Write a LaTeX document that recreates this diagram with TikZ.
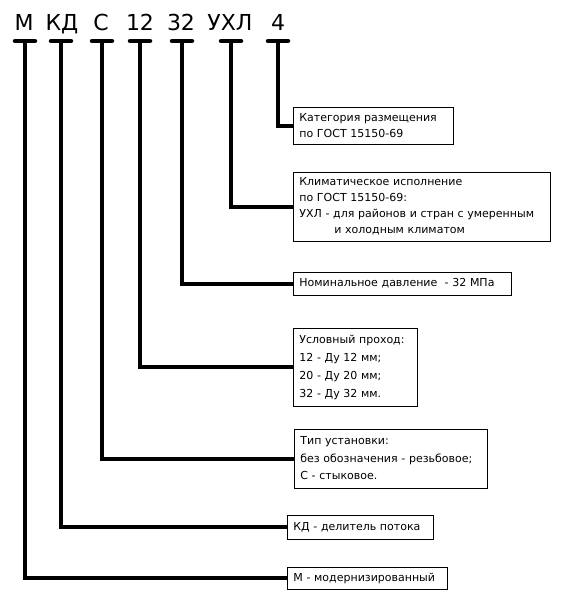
\documentclass[tikz,border=0pt]{standalone}
\usepackage{fontspec}
\setmainfont{DejaVu Sans}
\begin{document}
\begin{tikzpicture}[
		x=1pt, y=-1pt,
		marca/.style={
			anchor=base,
			inner sep=0pt,
			font=\fontsize{22}{26}\selectfont
		},
		caixa/.style={
			draw,
			rectangle,
			anchor=west,
			align=left,
			line width=0.8pt,
			inner xsep=6pt,
			inner ysep=2pt,
			font=\fontsize{11}{16}\selectfont
		},
		traco/.style={line width=4.5pt, line cap=round},
		ligacao/.style={line width=4pt}
		]
		\useasboundingbox (0,0) rectangle (561,599);
		
		% oboznachenie
		\node[marca] (M) at (24,31) {М};
		\node[marca] (KD) at (62,31) {КД};
		\node[marca] (C) at (101,31) {С};
		\node[marca] (d12) at (140,31) {12};
		\node[marca] (d32) at (181,31) {32};
		\node[marca] (UHL) at (230,31) {УХЛ};
		\node[marca] (d4) at (278,31) {4};
		
		\coordinate (tM) at (25,41);
		\coordinate (tKD) at (61,41);
		\coordinate (tC) at (102,41);
		\coordinate (t12) at (140,41);
		\coordinate (t32) at (182,41);
		\coordinate (tUHL) at (231,41);
		\coordinate (t4) at (278,41);
		
		\foreach \t in {tM,tKD,tC,t12,t32,tUHL,t4}
			\draw[traco] ([xshift=-10pt]\t) -- ([xshift=10pt]\t);
		
		% raskhifrovka
		\node[caixa, text width=148pt, minimum height=37pt] (kat) at (293,125.5)
			{Категория размещения\\по ГОСТ 15150-69};
		\node[caixa, text width=245pt, minimum height=69pt] (klim) at (293,206.5)
			{Климатическое исполнение\\по ГОСТ 15150-69:\\УХЛ - для районов и стран с умеренным\\\hspace*{35pt}и холодным климатом};
		\node[caixa, text width=206pt, minimum height=23pt] (nom) at (293,283.5)
			{Номинальное давление\ \ - 32 МПа};
		\node[caixa, text width=112pt, minimum height=78pt,
			font=\fontsize{11}{18}\selectfont] (du) at (293,367)
			{Условный проход:\\12 - Ду 12 мм;\\20 - Ду 20 мм;\\32 - Ду 32 мм.};
		\node[caixa, text width=181pt, minimum height=59pt,
			font=\fontsize{11}{17.5}\selectfont] (tip) at (294,458.5)
			{Тип установки:\\без обозначения - резьбовое;\\С - стыковое.};
		\node[caixa, text width=134pt, minimum height=24pt] (del) at (287,527)
			{КД - делитель потока};
		\node[caixa, text width=148pt, minimum height=22pt] (mod) at (287,578)
			{М - модернизированный};
		
		% linii
		\draw[ligacao] (t4) |- (kat.west);
		\draw[ligacao] (tUHL) |- (klim.west);
		\draw[ligacao] (t32) |- (nom.west);
		\draw[ligacao] (t12) |- (du.west);
		\draw[ligacao] (tC) |- (tip.west);
		\draw[ligacao] (tKD) |- (del.west);
		\draw[ligacao] (tM) |- (mod.west);
		
\end{tikzpicture}
\end{document}
